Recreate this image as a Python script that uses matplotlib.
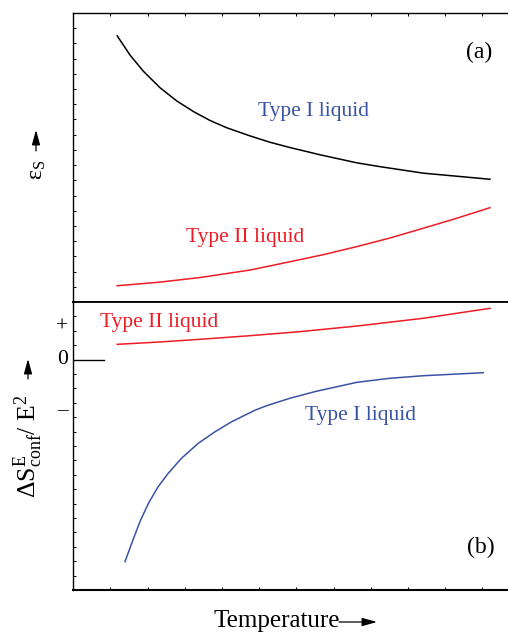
import matplotlib.pyplot as plt
from matplotlib.patches import FancyArrowPatch
from matplotlib.transforms import blended_transform_factory

plt.rcParams["font.family"] = ["Liberation Serif", "DejaVu Serif"]
plt.rcParams["mathtext.fontset"] = "custom"
plt.rcParams["mathtext.rm"] = "Liberation Serif"
plt.rcParams["mathtext.it"] = "Liberation Serif:italic"

RED = "#ee1c24"
BLUE = "#3953a4"

# ---------------------------------------------------------------------------
# Data (arbitrary units)
# ---------------------------------------------------------------------------

# (a) static permittivity vs temperature
eps_type1_T = [1.18, 1.52, 1.88, 2.33, 2.78, 3.23, 3.67, 4.12, 4.75, 5.29,
               5.83, 6.09, 6.63, 7.62, 8.24, 9.41, 11.20]
eps_type1 = [17.50, 16.25, 15.18, 14.09, 13.22, 12.52, 11.94, 11.46, 10.92,
             10.50, 10.15, 10.00, 9.68, 9.15, 8.90, 8.47, 8.07]

eps_type2_T = [1.18, 2.30, 3.41, 4.75, 5.83, 6.70, 7.62, 8.50, 9.41, 10.30, 11.20]
eps_type2 = [1.07, 1.30, 1.61, 2.10, 2.65, 3.10, 3.64, 4.20, 4.85, 5.50, 6.20]

# (b) configurational entropy change / E^2 vs temperature
ds_type2_T = [1.18, 2.30, 3.41, 4.70, 6.09, 7.62, 9.41, 11.20]
ds_type2 = [1.06, 1.22, 1.41, 1.65, 1.94, 2.33, 2.87, 3.56]

ds_type1_T = [1.39, 1.57, 1.79, 2.02, 2.28, 2.55, 2.91, 3.36, 3.81, 4.26,
              4.88, 5.20, 5.83, 6.50, 7.62, 8.50, 9.41, 11.02]
ds_type1 = [-14.03, -12.76, -11.26, -9.98, -8.83, -7.90, -6.85, -5.81, -5.01,
            -4.31, -3.52, -3.20, -2.68, -2.22, -1.58, -1.30, -1.12, -0.91]

SIGN_LABELS = ["+", "0", "\u2013"]
SIGN_POS = [2.23, 0.0, -3.57]

# ---------------------------------------------------------------------------
# Figure
# ---------------------------------------------------------------------------

W, H = 508, 633
fig = plt.figure(figsize=(W / 100, H / 100), dpi=100)
fig.patch.set_facecolor("white")

left = 73.3 / W
width = 12 * 37.2 / W
ax_a = fig.add_axes([left, (H - 302) / H, width, 289 / H])
ax_b = fig.add_axes([left, (H - 590) / H, width, 288 / H])

for ax in (ax_a, ax_b):
    ax.set_xlim(0, 12)
    ax.set_xticks(range(13))
    ax.set_xticklabels([])
    ax.spines["right"].set_visible(False)
    for s in ("left", "top", "bottom"):
        ax.spines[s].set_linewidth(1.0)
    ax.tick_params(axis="both", direction="in", length=2.5, width=0.7,
                   labelleft=False, labelbottom=False)

ax_a.set_ylim(0, 19)
ax_a.set_yticks(range(20))
ax_a.tick_params(axis="x", top=True, bottom=False)
ax_a.spines["bottom"].set_linewidth(1.3)

ax_b.set_ylim(-16, 4)
ax_b.set_yticks(range(-16, 5))
ax_b.tick_params(axis="x", top=False, bottom=True)
ax_b.spines["top"].set_linewidth(1.3)
ax_b.spines["bottom"].set_linewidth(1.5)

# panel (a)
ax_a.plot(eps_type1_T, eps_type1, color="black", lw=1.1)
ax_a.plot(eps_type2_T, eps_type2, color=RED, lw=1.1)
ax_a.text(6.47, 12.5, "Type I liquid", color=BLUE, fontsize=15.5,
          ha="center", va="center")
ax_a.text(4.63, 4.21, "Type II liquid", color=RED, fontsize=15.5,
          ha="center", va="center")
ax_a.text(10.92, 16.38, "(a)", fontsize=17, ha="center", va="center")

# panel (b)
ax_b.plot(ds_type2_T, ds_type2, color=RED, lw=1.1)
ax_b.plot(ds_type1_T, ds_type1, color=BLUE, lw=1.1)
ax_b.plot([0, 0.83], [0, 0], color="black", lw=1.0)
ax_b.text(2.30, 2.61, "Type II liquid", color=RED, fontsize=15.5,
          ha="center", va="center")
ax_b.text(7.72, -3.85, "Type I liquid", color=BLUE, fontsize=15.5,
          ha="center", va="center")
ax_b.text(10.95, -13.08, "(b)", fontsize=17, ha="center", va="center")

trans = blended_transform_factory(ax_b.transAxes, ax_b.transData)
for lab, y in zip(SIGN_LABELS, SIGN_POS):
    ax_b.text(-0.012, y, lab, transform=trans, fontsize=15.5,
              ha="right", va="center")

# axis labels with arrows
fig.text(37 / W, 1 - 170 / H, "\u03b5$_\\mathrm{S}$", fontsize=17,
         rotation=90, ha="center", va="center")
fig.text(28 / W, 1 - 446 / H,
         "\u0394S$^\\mathrm{E}_\\mathrm{conf}$/ E$^\\mathrm{2}$",
         fontsize=18.5, rotation=90, ha="center", va="center")
fig.text(213 / W, 1 - 621 / H, "Temperature", fontsize=18,
         ha="left", va="center")


def _arrow(p0, p1):
    fig.add_artist(FancyArrowPatch(
        (p0[0] / W, 1 - p0[1] / H), (p1[0] / W, 1 - p1[1] / H),
        transform=fig.transFigure, mutation_scale=10,
        arrowstyle="-|>,head_length=0.9,head_width=0.25",
        color="black", lw=0.9, shrinkA=0, shrinkB=0))


_arrow((36, 151), (36, 130))
_arrow((28, 379), (28, 359))
_arrow((339, 622), (377, 622))

plt.savefig("out.png", dpi=100, facecolor="white")
plt.close()
